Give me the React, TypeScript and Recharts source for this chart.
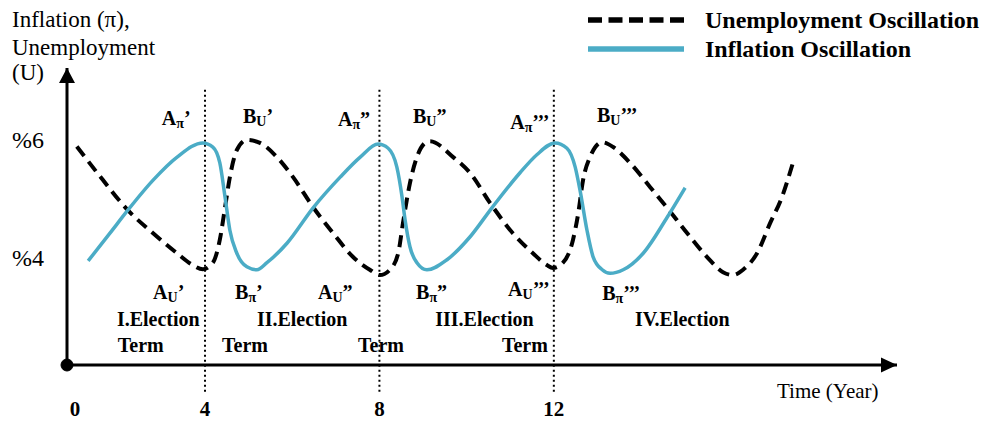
import React from 'react';
import { LineChart, Line, XAxis, YAxis, ReferenceLine, ReferenceDot, Legend } from 'recharts';

// time (years) and level (%)
const unemploymentYears = [1.06, 1.66, 2.23, 2.81, 3.36, 3.72, 3.95, 4.18, 4.34, 4.46, 4.57, 4.73, 4.96, 5.26, 5.65, 6.02, 6.48, 6.94, 7.39, 7.78, 8.01, 8.24, 8.43, 8.54, 8.7, 8.86, 9.09, 9.16, 9.69, 10.08, 10.54, 11.06, 11.52, 11.84, 11.98, 12.21, 12.44, 12.56, 12.67, 12.83, 13.11, 13.36, 13.75, 14.21, 14.6, 15.06, 15.51, 15.88, 16.11, 16.34, 16.66, 16.96, 17.23, 17.49];
const unemploymentValues = [5.89, 5.32, 4.81, 4.42, 4.08, 3.88, 3.81, 3.92, 4.31, 4.86, 5.37, 5.83, 6.0, 5.95, 5.71, 5.37, 4.86, 4.42, 4.02, 3.8, 3.71, 3.8, 4.08, 4.59, 5.27, 5.71, 5.97, 5.98, 5.71, 5.44, 4.93, 4.42, 4.08, 3.88, 3.83, 3.92, 4.31, 4.76, 5.32, 5.71, 5.96, 5.88, 5.61, 5.2, 4.85, 4.42, 4.02, 3.76, 3.71, 3.8, 4.08, 4.59, 5.03, 5.63];

const inflationYears = [1.32, 1.82, 2.23, 2.81, 3.36, 3.95, 4.18, 4.34, 4.46, 4.57, 4.73, 4.96, 5.19, 5.42, 5.88, 6.48, 7.1, 7.56, 7.97, 8.2, 8.4, 8.52, 8.59, 8.7, 8.86, 9.09, 9.55, 10.08, 10.58, 11.22, 11.61, 12.03, 12.3, 12.49, 12.6, 12.76, 12.9, 13.11, 13.29, 13.59, 14.05, 14.6, 15.01];
const inflationValues = [3.95, 4.42, 4.81, 5.32, 5.71, 5.95, 5.88, 5.61, 5.03, 4.47, 4.08, 3.85, 3.8, 3.92, 4.25, 4.85, 5.37, 5.71, 5.93, 5.86, 5.54, 5.03, 4.64, 4.19, 3.92, 3.8, 3.97, 4.36, 4.85, 5.44, 5.75, 5.95, 5.86, 5.54, 5.15, 4.47, 4.02, 3.8, 3.74, 3.8, 4.08, 4.69, 5.19];

const seriesNames = ['Unemployment Oscillation', 'Inflation Oscillation'];

const xTicks = [1.02, 4, 8, 12];
const xTickLabels = ['0', '4', '8', '12'];
const yTicks = [6, 4];
const yTickLabels = ['%6', '%4'];
const termBoundaries = [4, 8, 12];

const markLetters = ['A', 'B', 'A', 'B', 'A', 'B', 'A', 'B', 'A', 'B', 'A', 'B'];
const markSubs = ['π', 'U', 'π', 'U', 'π', 'U', 'U', 'π', 'U', 'π', 'U', 'π'];
const markPrimes = ['’', '’', '”', '”', '’’’', '’’’', '’', '’', '”', '”', '’’’', '’’’'];
const markX = [3.01, 4.87, 7.05, 8.77, 11.0, 12.99, 2.81, 4.69, 6.59, 8.84, 10.95, 13.11];
const markY = [6.25, 6.29, 6.24, 6.29, 6.19, 6.31, 3.31, 3.31, 3.31, 3.31, 3.36, 3.29];

const termTexts = ['I.Election', 'Term', 'II.Election', 'Term', 'Term', 'III.Election', 'Term', 'IV.Election'];
const termX = [1.98, 2.0, 5.19, 4.39, 7.51, 9.28, 10.81, 13.86];
const termY = [2.85, 2.41, 2.85, 2.41, 2.41, 2.85, 2.41, 2.85];

const X_MIN = 0.835;
const X_MAX = 19.87;
const Y_MIN = 2.186;
const Y_MAX = 7.22;

const CYAN = '#4BACC6';
const FONT = '"Liberation Serif", "Times New Roman", serif';

const unemploymentData = unemploymentYears.map((t, i) => ({ t, v: unemploymentValues[i] }));
const inflationData = inflationYears.map((t, i) => ({ t, v: inflationValues[i] }));

const XTick = (props: any) => {
  const idx = xTicks.indexOf(props.payload.value);
  return (
    <text x={props.x} y={props.y + 49} textAnchor="middle" fontSize={21} fontWeight="bold" fill="#000" fontFamily={FONT}>
      {xTickLabels[idx]}
    </text>
  );
};

const YTick = (props: any) => {
  const idx = yTicks.indexOf(props.payload.value);
  return (
    <text x={12} y={props.y + 8} textAnchor="start" fontSize={24} fill="#000" fontFamily={FONT}>
      {yTickLabels[idx]}
    </text>
  );
};

const renderLegend = (props: any) => {
  const payload = props.payload || [];
  return (
    <svg width={400} height={70}>
      {seriesNames.map((name, i) => {
        const entry = payload.find((p: any) => p.value === name);
        const color = entry ? entry.color : i === 0 ? '#000' : CYAN;
        const y = 20 + i * 29;
        return (
          <g key={name}>
            <line x1={3} x2={99} y1={y} y2={y} stroke={color} strokeWidth={5.5} strokeDasharray={i === 0 ? '14 6.5' : undefined} />
            <text x={120} y={y + 8} fontSize={24} fontWeight="bold" fontFamily={FONT} fill="#000">
              {name}
            </text>
          </g>
        );
      })}
    </svg>
  );
};

export default function App() {
  return (
    <div style={{ position: 'absolute', left: 0, top: 0, width: 987, height: 421, background: '#fff' }}>
      <svg width={987} height={421} style={{ position: 'absolute', left: 0, top: 0 }}>
        <text x={12} y={27} fontSize={23} fontFamily={FONT} fill="#000">Inflation (π),</text>
        <text x={12} y={55} fontSize={23} fontFamily={FONT} fill="#000">Unemployment</text>
        <text x={12} y={80} fontSize={23} fontFamily={FONT} fill="#000">(U)</text>
        <text x={777} y={398} fontSize={21} fontFamily={FONT} fill="#000">Time (Year)</text>
      </svg>
      <div style={{ position: 'absolute', left: 0, top: 0 }}>
        <LineChart width={987} height={421} margin={{ top: 68, right: 90, bottom: 6, left: 7 }} style={{ fontFamily: FONT }}>
          <XAxis
            dataKey="t"
            type="number"
            domain={[X_MIN, X_MAX]}
            allowDataOverflow
            ticks={xTicks}
            tick={<XTick />}
            tickLine={false}
            tickSize={0}
            height={50}
            axisLine={{ stroke: '#000', strokeWidth: 3 }}
          />
          <YAxis
            type="number"
            domain={[Y_MIN, Y_MAX]}
            allowDataOverflow
            ticks={yTicks}
            tick={<YTick />}
            tickLine={false}
            tickSize={0}
            width={60}
            axisLine={{ stroke: '#000', strokeWidth: 3 }}
          />
          <Legend
            layout="horizontal"
            verticalAlign="middle"
            align="center"
            content={renderLegend}
            wrapperStyle={{ position: 'absolute', left: 585, top: 0, width: 400, height: 70 }}
          />
          {termBoundaries.map((b) => (
            <ReferenceLine
              key={b}
              segment={[{ x: b, y: 6.85 }, { x: b, y: 1.68 }]}
              stroke="#000"
              strokeWidth={2}
              strokeDasharray="2 3"
              ifOverflow="visible"
            />
          ))}
          <Line
            data={unemploymentData}
            dataKey="v"
            name={seriesNames[0]}
            type="monotone"
            stroke="#000"
            strokeWidth={4}
            strokeDasharray="12 7"
            dot={false}
            activeDot={false}
            isAnimationActive={false}
          />
          <Line
            data={inflationData}
            dataKey="v"
            name={seriesNames[1]}
            type="monotone"
            stroke={CYAN}
            strokeWidth={3.5}
            dot={false}
            activeDot={false}
            isAnimationActive={false}
          />
          {markLetters.map((l, i) => (
            <ReferenceDot
              key={'m' + i}
              x={markX[i]}
              y={markY[i]}
              r={0}
              ifOverflow="visible"
              shape={(p: any) => (
                <text x={p.cx} y={p.cy} fontSize={20} fontWeight="bold" fontFamily={FONT} fill="#000">
                  {l}
                  <tspan fontSize={14} dy={3}>{markSubs[i]}</tspan>
                  <tspan fontSize={20} dy={-3}>{markPrimes[i]}</tspan>
                </text>
              )}
            />
          ))}
          {termTexts.map((s, i) => (
            <ReferenceDot
              key={'t' + i}
              x={termX[i]}
              y={termY[i]}
              r={0}
              ifOverflow="visible"
              shape={(p: any) => (
                <text x={p.cx} y={p.cy} fontSize={20} fontWeight="bold" fontFamily={FONT} fill="#000">
                  {s}
                </text>
              )}
            />
          ))}
          <ReferenceDot
            x={X_MAX}
            y={Y_MIN}
            r={0}
            ifOverflow="visible"
            shape={(p: any) => (
              <polygon points={`${p.cx},${p.cy} ${p.cx - 16},${p.cy - 7.5} ${p.cx - 16},${p.cy + 7.5}`} fill="#000" />
            )}
          />
          <ReferenceDot
            x={X_MIN}
            y={Y_MAX}
            r={0}
            ifOverflow="visible"
            shape={(p: any) => (
              <polygon points={`${p.cx},${p.cy} ${p.cx - 8},${p.cy + 15} ${p.cx + 8},${p.cy + 15}`} fill="#000" />
            )}
          />
          <ReferenceDot x={X_MIN} y={Y_MIN} r={6} fill="#000" stroke="#000" ifOverflow="visible" />
        </LineChart>
      </div>
    </div>
  );
}
